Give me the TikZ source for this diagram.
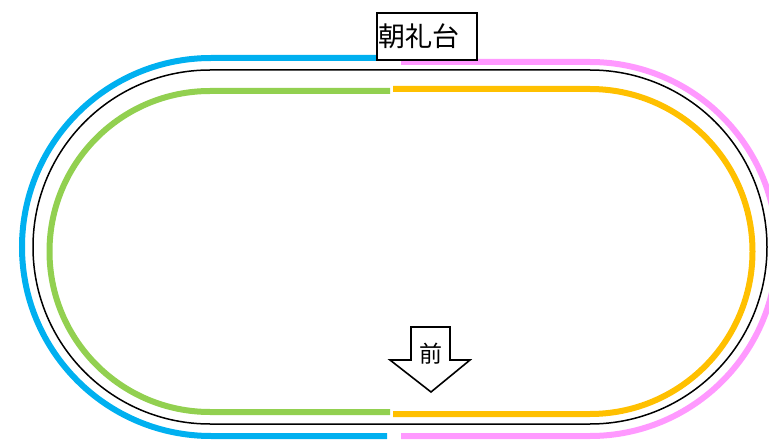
\documentclass[tikz,border=0pt]{standalone}
\usepackage{fontspec}
\newfontfamily\jp{Noto Sans CJK JP}
\definecolor{cblue}{HTML}{00B0F0}
\definecolor{cpink}{HTML}{FF99FF}
\definecolor{cgreen}{HTML}{92D050}
\definecolor{cyellow}{HTML}{FFC000}
\begin{document}
\begin{tikzpicture}[x=1pt,y=1pt,
  lane/.style={line width=6pt},
  trackline/.style={line width=1.5pt,black},
  labelbox/.style={draw,line width=1.6pt,fill=white,minimum width=100pt,minimum height=47pt,inner sep=1.5pt,text width=97pt,align=left},
  arrowshape/.style={draw,line width=1.6pt,fill=white,line join=miter}]
\useasboundingbox (0,0) rectangle (769,440);
\clip (0,0) rectangle (769,440);
% outer lanes
\draw[lane,cblue] (387,382) -- (211,382) arc[start angle=90,end angle=270,radius=189] -- (387,4);
\draw[lane,cpink] (401,378) -- (590,378) arc[start angle=90,end angle=-90,radius=187] -- (401,4);
% track line
\draw[trackline] (210,370) -- (590,370) arc[start angle=90,end angle=-90,radius=177] -- (210,16) arc[start angle=270,end angle=90,radius=177] -- cycle;
% inner lanes
\draw[lane,cgreen] (390,349) -- (210,349) arc[start angle=90,end angle=270,radius=160.5] -- (390,28);
\draw[lane,cyellow] (393,351) -- (590,351) arc[start angle=90,end angle=-90,radius=162.5] -- (393,26);
% label
\node[labelbox] (stage) at (427,403.5) {\jp\fontsize{27}{27}\selectfont 朝礼台};
% arrow
\draw[arrowshape] (411,113) -- (450,113) -- (450,80) -- (470,80) -- (431,48) -- (390,80) -- (411,80) -- cycle;
\node (front) at (431,86) {\jp\fontsize{23}{23}\selectfont 前};
\end{tikzpicture}
\end{document}
